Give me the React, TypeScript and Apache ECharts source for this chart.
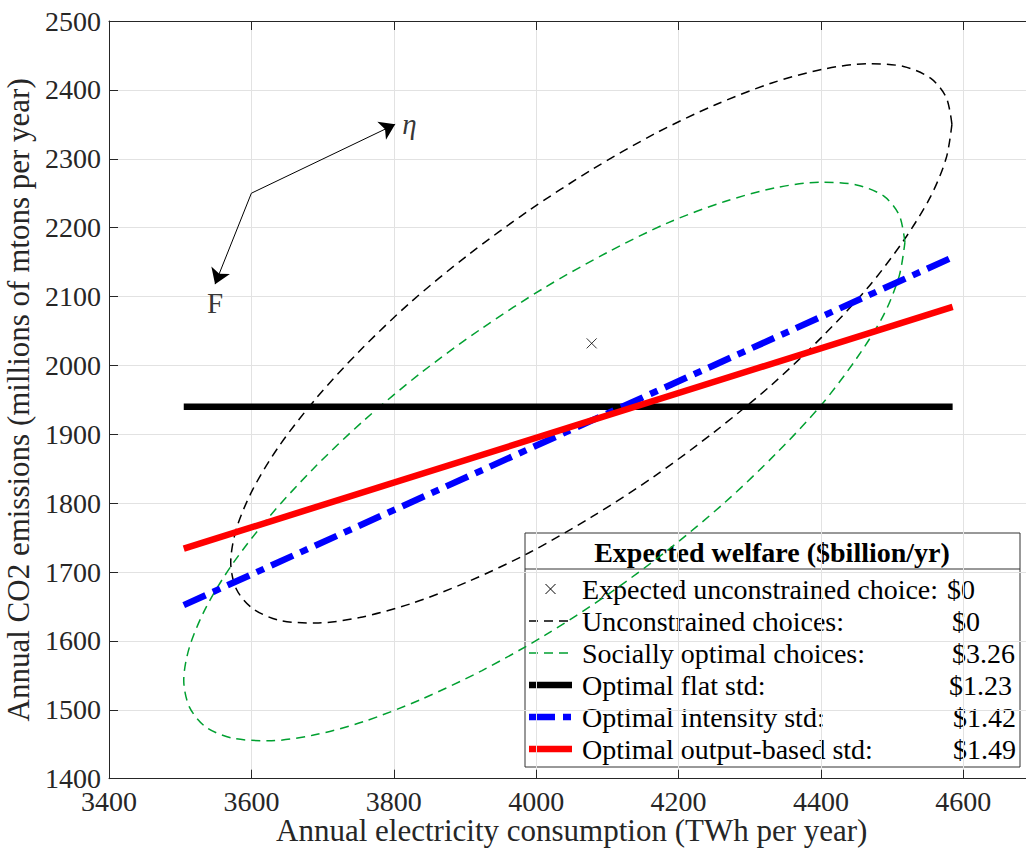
import React, { useEffect, useRef } from 'react';
import * as echarts from 'echarts';

const FONT = "'Liberation Serif', 'DejaVu Serif', 'Times New Roman', serif";

const xMin = 3400;
const xMax = 4700;
const xStep = 200;
const yMin = 1400;
const yMax = 2500;
const yStep = 100;
const xTitle = 'Annual electricity consumption (TWh per year)';
const yTitle = 'Annual CO2 emissions (millions of mtons per year)';

// Ellipse of unconstrained choices
const unconstrainedEllipse: number[][] = [
  [4584, 2350], [4576, 2389], [4554, 2417], [4516, 2434], [4466, 2438], [4403, 2430],
  [4331, 2410], [4251, 2378], [4166, 2336], [4078, 2284], [3990, 2225], [3904, 2160],
  [3824, 2092], [3752, 2021], [3690, 1951], [3639, 1883], [3602, 1820], [3579, 1763],
  [3571, 1714], [3579, 1675], [3602, 1647], [3639, 1630], [3690, 1626], [3752, 1634],
  [3824, 1654], [3904, 1686], [3990, 1728], [4078, 1780], [4166, 1839], [4251, 1904],
  [4331, 1972], [4403, 2043], [4466, 2113], [4516, 2181], [4554, 2245], [4576, 2301],
  [4584, 2350],
];

// Ellipse of socially optimal choices
const sociallyOptimalEllipse: number[][] = [
  [4518, 2179], [4510, 2218], [4488, 2246], [4450, 2262], [4400, 2266], [4337, 2258],
  [4265, 2238], [4185, 2207], [4100, 2164], [4012, 2113], [3924, 2054], [3838, 1989],
  [3758, 1920], [3686, 1849], [3624, 1779], [3573, 1711], [3536, 1648], [3513, 1591],
  [3505, 1543], [3513, 1504], [3536, 1475], [3573, 1459], [3624, 1455], [3686, 1463],
  [3758, 1483], [3838, 1515], [3924, 1557], [4012, 1608], [4100, 1667], [4185, 1732],
  [4265, 1801], [4337, 1872], [4400, 1942], [4450, 2010], [4488, 2073], [4510, 2130],
  [4518, 2179],
];

const expectedChoice: number[][] = [[4078, 2032]];
const flatStd: number[][] = [[3505, 1940], [4585, 1940]];
const intensityStd: number[][] = [[3505, 1652], [4585, 2157]];
const outputStd: number[][] = [[3505, 1734], [4585, 2085]];

const arrowOrigin = [3600, 2250];
const arrowEta = [3802, 2350];
const arrowF = [3549, 2118];
const annotations = [
  { value: [3822, 2351], text: 'η', italic: true },
  { value: [3549, 2091], text: 'F', italic: false },
];

const legendTitle = 'Expected welfare ($billion/yr)';
const legendLabels = [
  'Expected unconstrained choice:',
  'Unconstrained choices:',
  'Socially optimal choices:',
  'Optimal flat std:',
  'Optimal intensity std:',
  'Optimal output-based std:',
];
const legendValues = ['$0', '$0', '$3.26', '$1.23', '$1.42', '$1.49'];
const legendValueX = [947, 952, 952, 949, 953, 953];

const AX = '#262626';

export default function App() {
  const ref = useRef<HTMLDivElement>(null);
  useEffect(() => {
    if (!ref.current) return;
    const chart = echarts.init(ref.current, undefined, { renderer: 'svg' });

    const lx = 525, ly = 533, lw = 495, lh = 234;
    const rowY0 = 589, rowStep = 32;
    const sx0 = 529, sx1 = 572, tx = 582;
    const sampleStyles: any[] = [
      null,
      { stroke: '#000', lineWidth: 1.5, lineDash: [9, 6] },
      { stroke: '#00a030', lineWidth: 1.5, lineDash: [9, 6] },
      { stroke: '#000', lineWidth: 6.5 },
      { stroke: '#0000ff', lineWidth: 6.5, lineDash: [26, 8, 8, 8] },
      { stroke: '#ff0000', lineWidth: 6.5 },
    ];
    const legendChildren: any[] = [
      { type: 'rect', shape: { x: lx, y: ly, width: lw, height: lh }, style: { fill: '#fff', stroke: '#333', lineWidth: 1 } },
      { type: 'line', shape: { x1: lx, y1: 569, x2: lx + lw, y2: 569 }, style: { stroke: '#333', lineWidth: 1 } },
      { type: 'text', x: 772, y: 552, style: { text: legendTitle, font: `bold 28px ${FONT}`, fill: '#000', align: 'center', verticalAlign: 'middle' } },
    ];
    legendLabels.forEach((lab, i) => {
      const y = rowY0 + rowStep * i;
      if (i === 0) {
        const c = (sx0 + sx1) / 2;
        legendChildren.push({ type: 'line', shape: { x1: c - 5, y1: y - 5, x2: c + 5, y2: y + 5 }, style: { stroke: '#000', lineWidth: 1 } });
        legendChildren.push({ type: 'line', shape: { x1: c - 5, y1: y + 5, x2: c + 5, y2: y - 5 }, style: { stroke: '#000', lineWidth: 1 } });
      } else {
        legendChildren.push({ type: 'line', shape: { x1: sx0, y1: y, x2: sx1, y2: y }, style: sampleStyles[i] });
      }
      legendChildren.push({ type: 'text', x: tx, y: y, style: { text: lab, font: `28px ${FONT}`, fill: '#000', align: 'left', verticalAlign: 'middle' } });
      legendChildren.push({ type: 'text', x: legendValueX[i], y: y, style: { text: legendValues[i], font: `28px ${FONT}`, fill: '#000', align: 'left', verticalAlign: 'middle' } });
    });

    const axisText = { fontSize: 28, fontFamily: FONT, color: AX };
    const titleText = { fontSize: 31, lineHeight: 28, fontFamily: FONT, color: AX };

    chart.setOption({
      animation: false,
      backgroundColor: '#fff',
      grid: { left: 109, top: 21, width: 925.5, height: 757.7, outerBoundsMode: 'none', containLabel: false },
      xAxis: [
        {
          type: 'value', min: xMin, max: xMax, interval: xStep, position: 'bottom',
          axisLine: { show: true, onZero: false, lineStyle: { color: AX, width: 1 } },
          axisTick: { show: true, inside: true, length: 9, lineStyle: { color: AX, width: 1 } },
          axisLabel: { ...axisText, lineHeight: 24, margin: 11, formatter: (v: number) => (v > 4600 ? '' : String(v)) },
          splitLine: { show: true, lineStyle: { color: '#e2e2e2', width: 1 } },
          name: xTitle, nameLocation: 'middle', nameGap: 37.5, nameMoveOverlap: false,
          nameTextStyle: { ...titleText },
        },
        {
          type: 'value', min: xMin, max: xMax, interval: xStep, position: 'top',
          axisLine: { show: true, onZero: false, lineStyle: { color: AX, width: 1 } },
          axisTick: { show: true, inside: true, length: 9, lineStyle: { color: AX, width: 1 } },
          axisLabel: { show: false },
          splitLine: { show: false },
        },
      ],
      yAxis: [
        {
          type: 'value', min: yMin, max: yMax, interval: yStep, position: 'left',
          axisLine: { show: true, onZero: false, lineStyle: { color: AX, width: 1 } },
          axisTick: { show: true, inside: true, length: 9, lineStyle: { color: AX, width: 1 } },
          axisLabel: { ...axisText, margin: 8, formatter: (v: number) => String(v) },
          splitLine: { show: true, lineStyle: { color: '#e2e2e2', width: 1 } },
          name: yTitle, nameLocation: 'middle', nameGap: 46, nameRotate: 90,
          nameTextStyle: { fontSize: 31, fontFamily: FONT, color: AX },
        },
      ],
      series: [
        {
          type: 'line', name: 'Unconstrained choices', data: unconstrainedEllipse, smooth: 0.3,
          showSymbol: false, symbol: 'none',
          lineStyle: { color: '#000', width: 1.5, type: [9, 6] }, z: 2,
        },
        {
          type: 'line', name: 'Socially optimal choices', data: sociallyOptimalEllipse, smooth: 0.3,
          showSymbol: false, symbol: 'none',
          lineStyle: { color: '#00a030', width: 1.5, type: [9, 6] }, z: 2,
        },
        {
          type: 'line', name: 'Optimal flat std', data: flatStd, symbol: 'none',
          lineStyle: { color: '#000', width: 6.5, cap: 'butt' }, z: 3,
        },
        {
          type: 'line', name: 'Optimal intensity std', data: intensityStd, symbol: 'none',
          lineStyle: { color: '#0000ff', width: 6.5, type: [24, 8, 8, 8], cap: 'butt' }, z: 4,
        },
        {
          type: 'line', name: 'Optimal output-based std', data: outputStd, symbol: 'none',
          lineStyle: { color: '#ff0000', width: 6.5, cap: 'butt' }, z: 5,
        },
        {
          type: 'scatter', name: 'Expected unconstrained choice', data: expectedChoice,
          symbol: 'path://M0,0L10,10M10,0L0,10', symbolSize: 10,
          itemStyle: { color: 'none', borderColor: '#000', borderWidth: 1 }, z: 6,
        },
        {
          type: 'lines', coordinateSystem: 'cartesian2d', symbol: ['none', 'arrow'], symbolSize: [12, 15],
          lineStyle: { color: '#000', width: 1, opacity: 1, curveness: 0 },
          data: [
            { coords: [arrowOrigin, arrowEta] },
            { coords: [arrowOrigin, arrowF] },
          ],
          z: 6,
        },
        {
          type: 'scatter', data: annotations.map((a) => ({
            value: a.value,
            label: { show: true, formatter: a.text, position: 'inside', fontSize: 29, fontFamily: FONT, fontStyle: a.italic ? 'italic' : 'normal', color: '#000' },
          })),
          symbolSize: 0, silent: true, z: 6,
        },
      ],
      graphic: [{ type: 'group', z: 100, children: legendChildren }],
    });
    return () => chart.dispose();
  }, []);
  return <div ref={ref} style={{ position: 'absolute', left: 0, top: 0, width: 1026, height: 852, overflow: 'hidden', background: '#fff' }} />;
}
